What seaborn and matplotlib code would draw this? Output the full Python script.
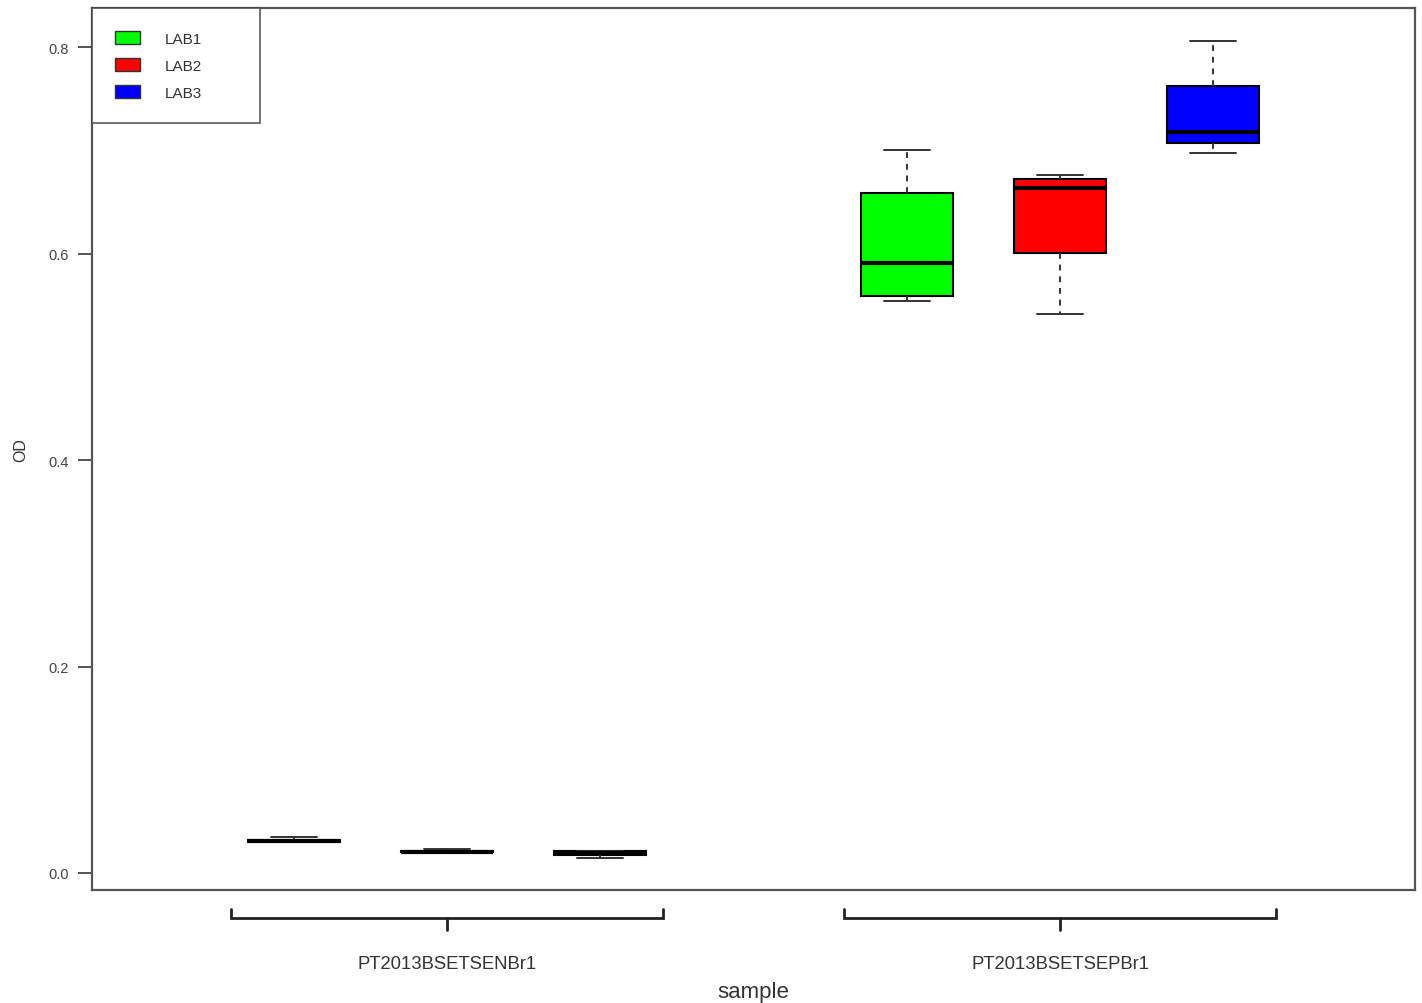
import numpy as np
import pandas as pd
import matplotlib
matplotlib.use("Agg")
import matplotlib.pyplot as plt
import matplotlib.transforms as mtransforms
import seaborn as sns

# OD readings per sample and lab (five readings each)
samples = ["PT2013BSETSENBr1", "PT2013BSETSEPBr1"]
labs = ["LAB1", "LAB2", "LAB3"]
lab_colors = ["#00FF00", "#FF0000", "#0000FF"]

senb_lab1 = [0.030, 0.030, 0.031, 0.032, 0.035]
senb_lab2 = [0.020, 0.020, 0.0205, 0.021, 0.023]
senb_lab3 = [0.0145, 0.017, 0.019, 0.021, 0.021]
sepb_lab1 = [0.554, 0.559, 0.591, 0.659, 0.700]
sepb_lab2 = [0.542, 0.601, 0.664, 0.672, 0.676]
sepb_lab3 = [0.698, 0.707, 0.718, 0.762, 0.806]

y_ticks = [0.0, 0.2, 0.4, 0.6, 0.8]

rows = []
for s, lab, vals in [
    (samples[0], labs[0], senb_lab1), (samples[0], labs[1], senb_lab2),
    (samples[0], labs[2], senb_lab3), (samples[1], labs[0], sepb_lab1),
    (samples[1], labs[1], sepb_lab2), (samples[1], labs[2], sepb_lab3),
]:
    for v in vals:
        rows.append({"sample": s, "lab": lab, "OD": v})
df = pd.DataFrame(rows)

sns.set_style("white")
plt.rcParams["font.family"] = ["Liberation Sans", "DejaVu Sans"]

fig = plt.figure(figsize=(14.22, 10.04), dpi=100)
ax = fig.add_axes([92 / 1422, 1 - 891 / 1004, (1415 - 92) / 1422, (891 - 9) / 1004])

sns.boxplot(
    data=df, x="sample", y="OD", hue="lab", order=samples, hue_order=labs,
    palette=lab_colors, width=0.75, gap=0.4, whis=(0, 100), saturation=1,
    linewidth=1.5, linecolor="black", fliersize=0,
    medianprops=dict(color="black", linewidth=3),
    whiskerprops=dict(color="#333333", linestyle=(0, (3, 3)), linewidth=1.4),
    capprops=dict(color="#333333", linewidth=1.4),
    legend=False, ax=ax,
)

ax.set_xlim(-0.579, 1.579)
ax.set_ylim(-0.0165, 0.838)
ax.set_yticks(y_ticks)
ax.set_yticklabels([f"{t:.1f}" for t in y_ticks])
ax.tick_params(axis="y", direction="out", length=10, width=1.3, color="#444444",
               labelsize=10.5, labelcolor="#444444", pad=7, left=True)
ax.set_xticks([])
ax.set_xlabel("")
ax.set_ylabel("OD", fontsize=11.5, color="#333333", labelpad=14)
for sp in ax.spines.values():
    sp.set_visible(True)
    sp.set_color("#555555")
    sp.set_linewidth(1.6)

# group brackets below the axis
trans = mtransforms.blended_transform_factory(ax.transData, ax.transAxes)
for i, name in enumerate(samples):
    x0, x1 = i - 0.352, i + 0.352
    ax.plot([x0, x0, x1, x1], [-0.0215, -0.0317, -0.0317, -0.0215], color="#222222",
            lw=2, transform=trans, clip_on=False, solid_joinstyle="miter")
    ax.plot([i, i], [-0.0317, -0.0454], color="#222222", lw=2, transform=trans,
            clip_on=False)
    ax.text(i, -0.083, name, transform=trans, ha="center", va="center",
            fontsize=13.3, color="#333333")
ax.text(0.5, -0.1155, "sample", transform=ax.transAxes, ha="center", va="center",
        fontsize=16, color="#333333")

handles = [plt.Rectangle((0, 0), 1, 1, facecolor=c, edgecolor="#333333", lw=1)
           for c in lab_colors]
leg_w = (260 - 92) / 1323
leg_h = (118 - 9) / 882
leg = ax.legend(handles=handles, labels=labs, loc="upper left",
                bbox_to_anchor=(0, 1 - leg_h, leg_w, leg_h), mode="expand",
                borderaxespad=0, fontsize=11, frameon=True, fancybox=False,
                handlelength=1.65, handleheight=0.95, handletextpad=1.6,
                labelspacing=0.8, borderpad=1.5)
leg.get_frame().set_edgecolor("#444444")
leg.get_frame().set_linewidth(1.3)
for t in leg.get_texts():
    t.set_color("#333333")

fig.savefig("out.png", dpi=100)
